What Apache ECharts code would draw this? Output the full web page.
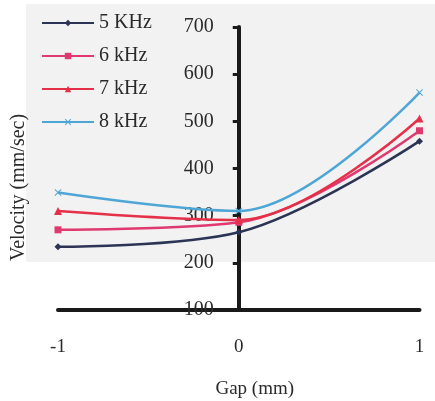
<!DOCTYPE html>
<html>
<head>
<meta charset="utf-8">
<script src="https://cdn.jsdelivr.net/npm/echarts@6/dist/echarts.min.js"></script>
<style>
  html, body { margin: 0; padding: 0; background: #ffffff; }
  #chart { width: 435px; height: 401px; }
</style>
</head>
<body>
<div id="chart"></div>
<script>
// Gap positions (mm) and measured velocities (mm/sec) per excitation frequency
const gaps = [-1, 0, 1];
const v5kHz = [234, 265, 458];
const v6kHz = [270, 286, 480];
const v7kHz = [310, 291, 506];
const v8kHz = [349, 310, 561];
const seriesNames = ['5 KHz', '6 kHz', '7 kHz', '8 kHz'];
const yTicks = [100, 200, 300, 400, 500, 600, 700];

const serif = '"Liberation Serif", "DejaVu Serif", serif';
const crossPath = 'path://M0,1L1,0L5,4L9,0L10,1L6,5L10,9L9,10L5,6L1,10L0,9L4,5Z';

const styles = [
  { color: '#2b3454', symbol: 'diamond', size: 7 },
  { color: '#e0396f', symbol: 'rect', size: 7 },
  { color: '#e5304a', symbol: 'triangle', size: 8 },
  { color: '#4ea6d6', symbol: crossPath, size: 7 }
];
const values = [v5kHz, v6kHz, v7kHz, v8kHz];

// plot box
const gridLeft = 58, gridRight = 15.5;
const plotWidth = 435 - gridLeft - gridRight;

const chart = echarts.init(document.getElementById('chart'), null, { renderer: 'canvas' });

chart.setOption({
  backgroundColor: '#ffffff',
  animation: false,
  graphic: [{
    type: 'rect',
    z: -10,
    silent: true,
    shape: { x: 26, y: 4, width: 409, height: 258 },
    style: { fill: '#f2f2f2' }
  }],
  legend: {
    orient: 'vertical',
    left: 41,
    top: 13,
    padding: 0,
    itemWidth: 52,
    itemHeight: 8,
    itemGap: 13,
    data: seriesNames,
    textStyle: { fontFamily: serif, fontSize: 20, color: '#2a2a2a' }
  },
  grid: { left: gridLeft, right: gridRight, top: 27, bottom: 91, containLabel: false, outerBoundsMode: 'none' },
  xAxis: {
    type: 'value',
    min: -1,
    max: 1,
    interval: 1,
    name: 'Gap (mm)',
    nameLocation: 'middle',
    nameGap: 70,
    nameTextStyle: { fontFamily: serif, fontSize: 19, color: '#2a2a2a', padding: [0, 0, 0, 32] },
    axisLine: { onZero: false, lineStyle: { color: '#1a1a1a', width: 4 } },
    axisTick: { show: false },
    axisLabel: { margin: 28, fontFamily: serif, fontSize: 19, color: '#2a2a2a' },
    splitLine: { show: false }
  },
  yAxis: {
    type: 'value',
    min: yTicks[0],
    max: yTicks[yTicks.length - 1],
    interval: 100,
    // the vertical axis stands at Gap = 0, the middle of the plot
    offset: -plotWidth / 2,
    name: 'Velocity (mm/sec)',
    nameLocation: 'middle',
    nameGap: 210,
    nameRotate: 90,
    nameTextStyle: { fontFamily: serif, fontSize: 20, color: '#2a2a2a', padding: [0, 38, 0, 0] },
    axisLine: { show: true, onZero: false, lineStyle: { color: '#1a1a1a', width: 4 } },
    axisTick: { show: true, inside: false, length: 6, lineStyle: { color: '#1a1a1a', width: 3 } },
    axisLabel: { margin: 25, fontFamily: serif, fontSize: 20, color: '#2a2a2a' },
    splitLine: { show: false }
  },
  series: seriesNames.map((name, i) => ({
    name: name,
    type: 'line',
    smooth: 0.35,
    data: gaps.map((g, j) => [g, values[i][j]]),
    symbol: styles[i].symbol,
    symbolSize: styles[i].size,
    showAllSymbol: true,
    color: styles[i].color,
    lineStyle: { color: styles[i].color, width: 2.5 },
    itemStyle: { color: styles[i].color },
    z: 1
  }))
});
</script>
</body>
</html>
